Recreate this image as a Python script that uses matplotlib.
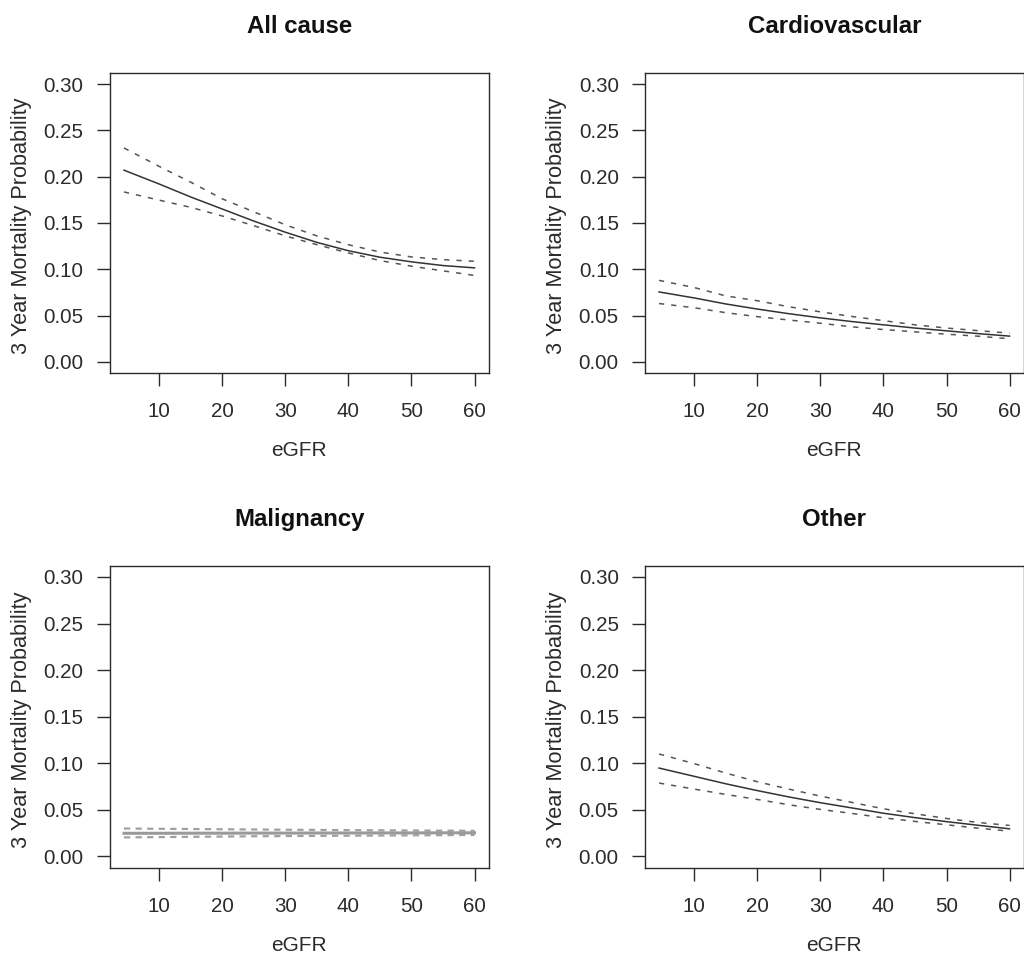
import matplotlib
matplotlib.use('Agg')
import matplotlib.pyplot as plt

plt.rcParams['font.family'] = ['Liberation Sans', 'DejaVu Sans']

#-- data (eGFR vs predicted 3 year mortality, with CI)
egfr = [4.4, 10, 15, 20, 25, 30, 35, 40, 45, 50, 55, 60]

titles = ['All cause', 'Cardiovascular', 'Malignancy', 'Other']

all_est   = [0.207, 0.192, 0.178, 0.165, 0.152, 0.140, 0.129, 0.120, 0.113, 0.108, 0.104, 0.1015]
all_upper = [0.231, 0.211, 0.194, 0.176, 0.162, 0.148, 0.136, 0.1265, 0.1186, 0.1133, 0.1104, 0.1086]
all_lower = [0.1835, 0.1746, 0.1668, 0.1575, 0.147, 0.136, 0.1265, 0.1176, 0.1094, 0.1033, 0.0983, 0.0933]

cv_est   = [0.0755, 0.069, 0.0625, 0.057, 0.052, 0.0475, 0.0435, 0.040, 0.0365, 0.0335, 0.0305, 0.0278]
cv_upper = [0.088, 0.0802, 0.0712, 0.066, 0.0595, 0.054, 0.049, 0.0445, 0.040, 0.0365, 0.0337, 0.031]
cv_lower = [0.063, 0.0584, 0.0531, 0.0488, 0.0452, 0.0417, 0.0378, 0.0349, 0.0324, 0.0299, 0.0277, 0.0249]

mal_est   = [0.0249, 0.0249, 0.0250, 0.0250, 0.0251, 0.0251, 0.0252, 0.0252, 0.0253, 0.0253, 0.0254, 0.0254]
mal_upper = [0.0300, 0.0297, 0.0295, 0.0292, 0.0290, 0.0287, 0.0285, 0.0283, 0.0281, 0.0279, 0.0277, 0.0276]
mal_lower = [0.0205, 0.0208, 0.0211, 0.0214, 0.0217, 0.0219, 0.0221, 0.0223, 0.0225, 0.0227, 0.0229, 0.0231]

oth_est   = [0.0949, 0.086, 0.078, 0.0707, 0.0639, 0.0577, 0.0521, 0.0464, 0.0417, 0.0374, 0.0335, 0.0297]
oth_upper = [0.110, 0.0996, 0.0895, 0.0802, 0.0723, 0.0648, 0.058, 0.0512, 0.0458, 0.0408, 0.0365, 0.0333]
oth_lower = [0.0788, 0.0723, 0.0666, 0.0612, 0.0555, 0.0505, 0.0462, 0.0415, 0.0376, 0.034, 0.0304, 0.0272]

x_ticks = [10, 20, 30, 40, 50, 60]
y_ticks = [0.00, 0.05, 0.10, 0.15, 0.20, 0.25, 0.30]
y_tick_labels = ['0.00', '0.05', '0.10', '0.15', '0.20', '0.25', '0.30']

series = [(all_est, all_upper, all_lower),
          (cv_est, cv_upper, cv_lower),
          (mal_est, mal_upper, mal_lower),
          (oth_est, oth_upper, oth_lower)]

# axes boxes in figure fractions (R par(mfrow=c(2,2)) look)
boxes = [[0.1074, 0.6139, 0.3697, 0.3106],
         [0.6299, 0.6139, 0.3697, 0.3106],
         [0.1074, 0.1018, 0.3697, 0.3125],
         [0.6299, 0.1018, 0.3697, 0.3125]]

ink = '#2b2b2b'
fs_tick = 14.8
fs_lab = 15.0


#--
def r_panel(ax, title, est, upper, lower, grey=False):

    if grey:
        # malignancy panel: lines appear light grey and thicker
        ax.plot(egfr, upper, color='#a0a0a0', lw=1.6, dashes=(2.8, 2.4))
        ax.plot(egfr, lower, color='#a0a0a0', lw=1.6, dashes=(2.8, 2.4))
        ax.plot(egfr, est, color='#9a9a9a', lw=2.2)
    else:
        ax.plot(egfr, upper, color='#555555', lw=1.1, dashes=(3.4, 4.6))
        ax.plot(egfr, lower, color='#555555', lw=1.1, dashes=(3.4, 4.6))
        ax.plot(egfr, est, color='#333333', lw=1.1)

    # R style 4% padding
    pad_x = 0.04 * (max(egfr) - min(egfr))
    ax.set_xlim(min(egfr) - pad_x, max(egfr) + pad_x)
    ax.set_ylim(-0.012, 0.312)

    ax.set_xticks(x_ticks)
    ax.set_yticks(y_ticks)
    ax.set_yticklabels(y_tick_labels)
    ax.tick_params(axis='x', length=9.4, width=1.0, color=ink, pad=11.5,
                   labelsize=fs_tick, labelcolor=ink)
    ax.tick_params(axis='y', length=9.4, width=1.0, color=ink, pad=9.5,
                   labelsize=fs_tick, labelcolor=ink)
    for s in ax.spines.values():
        s.set_color(ink)
        s.set_linewidth(1.0)

    ax.set_xlabel('eGFR', fontsize=fs_lab, color=ink)
    ax.set_ylabel('3 Year Mortality Probability', fontsize=15.6, color=ink)
    ax.xaxis.set_label_coords(0.5, -0.227)
    ax.yaxis.set_label_coords(-0.205, 0.49)
    ax.set_title(title, fontsize=17.3, fontweight='bold', color='#111111', pad=29)
    return()


#--- Main ---

fig = plt.figure(figsize=(10.24, 9.66), dpi=100)
for k in range(4):
    ax = fig.add_axes(boxes[k])
    est, upper, lower = series[k]
    r_panel(ax, titles[k], est, upper, lower, grey=(k == 2))

fig.savefig('out.png', dpi=100, facecolor='white')
